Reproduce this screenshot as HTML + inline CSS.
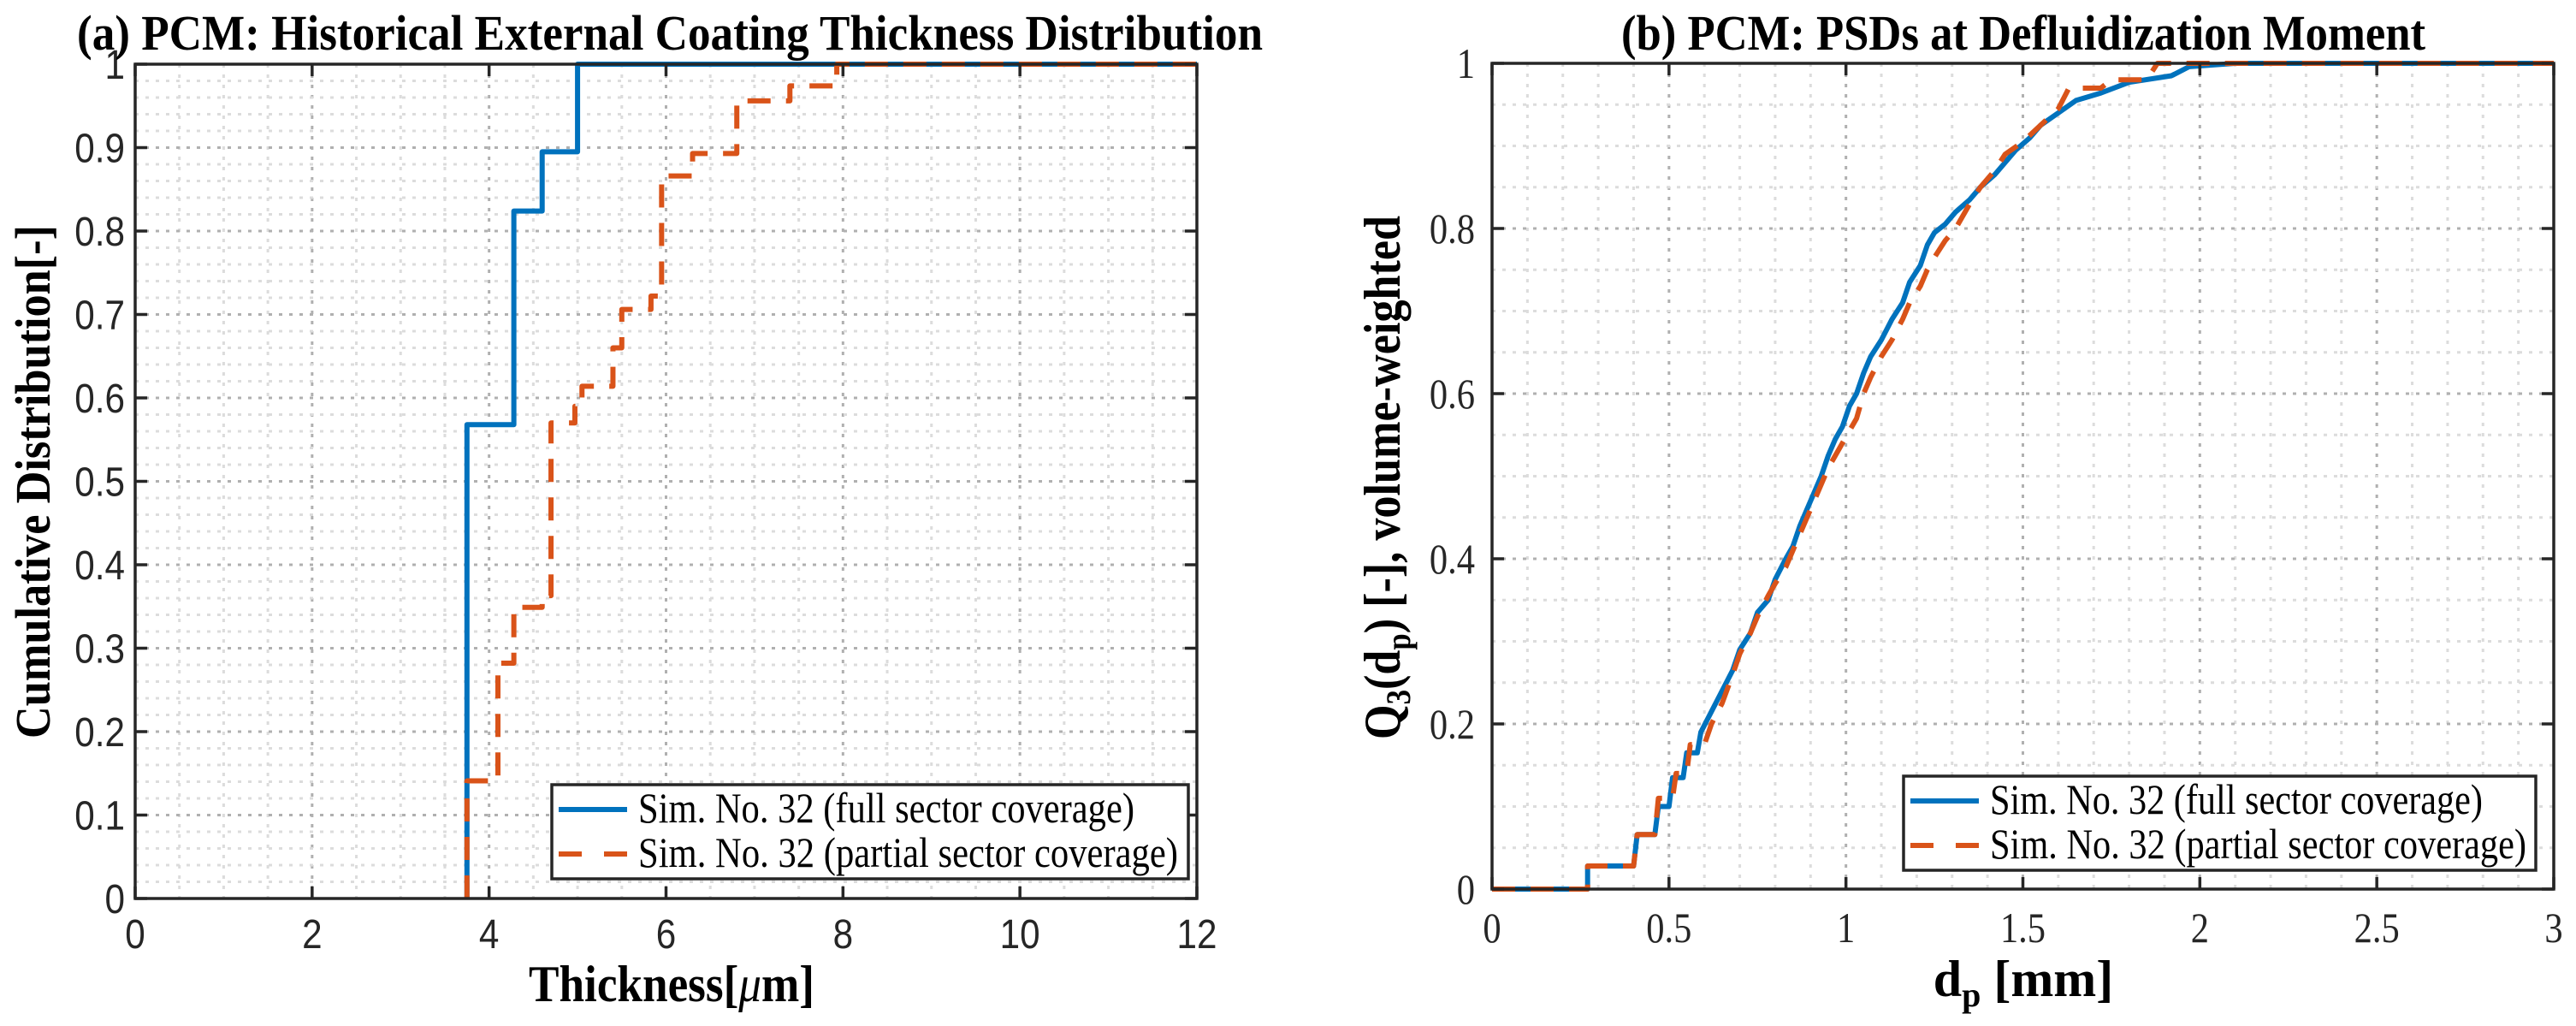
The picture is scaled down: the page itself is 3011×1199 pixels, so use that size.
<!DOCTYPE html>
<html><head><meta charset="utf-8"><style>
html,body{margin:0;padding:0;background:#fff;}
svg{display:block;}
</style></head><body>
<svg id="fig" xmlns="http://www.w3.org/2000/svg" width="3011" height="1199" viewBox="0 0 3011 1199">
<rect width="3011" height="1199" fill="#fff"/>
<g id="A"></g>
<g id="B"></g>
</svg>
<script>
// Panel (a) data
const aFullX = [3.75, 4.28, 4.6, 5.0];
const aFullY = [0.568, 0.824, 0.895, 1.0];
const aPartX = [3.75, 4.1, 4.28, 4.6, 4.7, 4.97, 5.05, 5.4, 5.5, 5.83, 5.95, 6.3, 6.8, 7.4, 7.93];
const aPartY = [0.141, 0.282, 0.349, 0.363, 0.57, 0.59, 0.614, 0.66, 0.706, 0.722, 0.866, 0.893, 0.956, 0.974, 1.0];
const aXTicks = [0, 2, 4, 6, 8, 10, 12];
const aYTicks = [0, 0.1, 0.2, 0.3, 0.4, 0.5, 0.6, 0.7, 0.8, 0.9, 1];
const aYTickLabels = ['0','0.1','0.2','0.3','0.4','0.5','0.6','0.7','0.8','0.9','1'];
// Panel (b) data
const bFullX = [0, 0.27, 0.27, 0.40, 0.41, 0.46, 0.47, 0.50, 0.51, 0.54, 0.55, 0.58, 0.59, 0.62, 0.65, 0.68, 0.70, 0.73, 0.75, 0.78, 0.80, 0.83, 0.85, 0.87, 0.89, 0.91, 0.93, 0.95, 0.97, 0.99, 1.01, 1.03, 1.05, 1.07, 1.10, 1.13, 1.16, 1.18, 1.21, 1.23, 1.25, 1.28, 1.31, 1.35, 1.38, 1.42, 1.45, 1.48, 1.52, 1.55, 1.60, 1.65, 1.72, 1.80, 1.92, 1.97, 2.10, 3.0];
const bFullY = [0, 0, 0.028, 0.028, 0.066, 0.066, 0.10, 0.10, 0.135, 0.135, 0.165, 0.165, 0.19, 0.215, 0.24, 0.265, 0.29, 0.31, 0.335, 0.35, 0.375, 0.40, 0.415, 0.44, 0.46, 0.48, 0.50, 0.525, 0.545, 0.56, 0.585, 0.60, 0.625, 0.645, 0.665, 0.69, 0.71, 0.735, 0.755, 0.78, 0.795, 0.805, 0.82, 0.835, 0.85, 0.865, 0.88, 0.895, 0.91, 0.925, 0.94, 0.955, 0.964, 0.977, 0.985, 0.996, 1.0, 1.0];
const bPartX = [0, 0.27, 0.27, 0.40, 0.41, 0.46, 0.47, 0.51, 0.52, 0.55, 0.56, 0.60, 0.62, 0.65, 0.68, 0.70, 0.73, 0.75, 0.78, 0.80, 0.83, 0.85, 0.87, 0.89, 0.91, 0.93, 0.95, 0.97, 0.99, 1.01, 1.03, 1.05, 1.07, 1.10, 1.13, 1.16, 1.18, 1.21, 1.23, 1.25, 1.28, 1.31, 1.35, 1.38, 1.42, 1.45, 1.50, 1.55, 1.60, 1.63, 1.72, 1.75, 1.85, 1.88, 3.0];
const bPartY = [0, 0, 0.028, 0.028, 0.066, 0.066, 0.11, 0.11, 0.14, 0.14, 0.175, 0.175, 0.20, 0.225, 0.26, 0.285, 0.31, 0.33, 0.355, 0.37, 0.39, 0.41, 0.43, 0.45, 0.47, 0.49, 0.51, 0.525, 0.54, 0.555, 0.57, 0.60, 0.62, 0.645, 0.665, 0.69, 0.71, 0.73, 0.75, 0.765, 0.785, 0.80, 0.83, 0.85, 0.87, 0.89, 0.905, 0.925, 0.945, 0.97, 0.97, 0.98, 0.98, 1.0, 1.0];
const bXTicks = [0, 0.5, 1, 1.5, 2, 2.5, 3];
const bXTickLabels = ['0','0.5','1','1.5','2','2.5','3'];
const bYTicks = [0, 0.2, 0.4, 0.6, 0.8, 1];
const bYTickLabels = ['0','0.2','0.4','0.6','0.8','1'];

const NS = 'http://www.w3.org/2000/svg';
function mk(parent, tag, attrs, text){
  const e = document.createElementNS(NS, tag);
  for (const k in attrs) e.setAttribute(k, attrs[k]);
  if (text !== undefined) e.textContent = text;
  parent.appendChild(e);
  return e;
}
const BLUE = '#0072BD', ORANGE = '#D95319';

function panel(g, o){
  const sx = v => o.x0 + (v - o.xmin) / (o.xmax - o.xmin) * (o.x1 - o.x0);
  const sy = v => o.y1 - (v - o.ymin) / (o.ymax - o.ymin) * (o.y1 - o.y0);
  const grid = mk(g, 'g', {});
  
  
  for (let v = o.xmin; v <= o.xmax + 1e-9; v += o.xminor) {
    const isMaj = o.xticks.some(t => Math.abs(t - v) < 1e-6);
    mk(grid, 'line', {x1: sx(v), x2: sx(v), y1: o.y0, y2: o.y1, stroke: isMaj ? '#b0b0b0' : '#dcdcdc', 'stroke-width': 3, 'stroke-dasharray': '4 8'});
  }
  for (let v = o.ymin; v <= o.ymax + 1e-9; v += o.yminor) {
    const isMaj = o.yticks.some(t => Math.abs(t - v) < 1e-6);
    mk(grid, 'line', {x1: o.x0, x2: o.x1, y1: sy(v), y2: sy(v), stroke: isMaj ? '#b0b0b0' : '#dcdcdc', 'stroke-width': 3, 'stroke-dasharray': '4 8'});
  }
  function series(xs, ys, color, dash, name, stairs){
    let pts = [];
    if (stairs) {
      pts.push([sx(xs[0]), sy(0)]);
      for (let i = 0; i < xs.length; i++) {
        pts.push([sx(xs[i]), sy(i === 0 ? 0 : ys[i-1])]);
        pts.push([sx(xs[i]), sy(ys[i])]);
      }
      pts.push([sx(o.xmax), sy(ys[ys.length-1])]);
    } else {
      for (let i = 0; i < xs.length; i++) pts.push([sx(xs[i]), sy(ys[i])]);
    }
    const p = mk(g, 'polyline', {points: pts.map(q => q.join(',')).join(' '), fill: 'none', stroke: color, 'stroke-width': 6, 'stroke-linejoin': 'round'});
    if (dash) p.setAttribute('stroke-dasharray', '27 18');
    
    
  }
  series(o.s1x, o.s1y, BLUE, false, 'series-full-coverage', o.stairs);
  series(o.s2x, o.s2y, ORANGE, true, 'series-partial-coverage', o.stairs);
  const box = mk(g, 'rect', {x: o.x0, y: o.y0, width: o.x1 - o.x0, height: o.y1 - o.y0, fill: 'none', stroke: '#262626', 'stroke-width': 3.5});
  
  
  o.xticks.forEach((v, i) => {
    mk(g, 'line', {x1: sx(v), x2: sx(v), y1: o.y1, y2: o.y1 - 14, stroke: '#262626', 'stroke-width': 3.5});
    mk(g, 'line', {x1: sx(v), x2: sx(v), y1: o.y0, y2: o.y0 + 14, stroke: '#262626', 'stroke-width': 3.5});
    const t = mk(g, 'text', {x: 0, y: 0, transform: 'translate(' + sx(v) + ',' + (o.y1 + o.xtickDy) + ') scale(' + o.tickSX + ',1)', 'text-anchor': 'middle', 'font-family': o.tickFont, 'font-size': o.tickSize, fill: '#262626'}, o.xtickLabels[i]);
    
    
  });
  o.yticks.forEach((v, i) => {
    mk(g, 'line', {x1: o.x0, x2: o.x0 + 14, y1: sy(v), y2: sy(v), stroke: '#262626', 'stroke-width': 3.5});
    mk(g, 'line', {x1: o.x1, x2: o.x1 - 14, y1: sy(v), y2: sy(v), stroke: '#262626', 'stroke-width': 3.5});
    const t = mk(g, 'text', {x: 0, y: 0, transform: 'translate(' + (o.x0 - o.ytickDx) + ',' + (sy(v) + 17) + ') scale(' + o.tickSX + ',1)', 'text-anchor': 'end', 'font-family': o.tickFont, 'font-size': o.tickSize, fill: '#262626'}, o.ytickLabels[i]);
    
    
  });
  const L = o.leg;
  const lg = mk(g, 'g', {});
  
  
  mk(lg, 'rect', {x: L.x, y: L.y, width: L.w, height: L.h, fill: '#fff', stroke: '#262626', 'stroke-width': 3.5});
  const rows = [['Sim. No. 32 (full sector coverage)', BLUE, false, L.tw1], ['Sim. No. 32 (partial sector coverage)', ORANGE, true, L.tw2]];
  rows.forEach((r, i) => {
    const cy = L.y + 29 + i * 52;
    const ln = mk(lg, 'line', {x1: L.x + 8, x2: L.x + 88, y1: cy, y2: cy, stroke: r[1], 'stroke-width': 6});
    if (r[2]) ln.setAttribute('stroke-dasharray', '27 26');
    const t = mk(lg, 'text', {x: L.x + 101, y: cy + 15, 'font-family': '"Liberation Serif", serif', 'font-size': 50, textLength: r[3], lengthAdjust: 'spacingAndGlyphs', fill: '#000'}, r[0]);
    
    
  });
}

const gA = document.getElementById('A');
panel(gA, {x0: 158, x1: 1399, y0: 75, y1: 1050, xmin: 0, xmax: 12, ymin: 0, ymax: 1,
  xminor: 0.5, yminor: 0.02, xticks: aXTicks, xtickLabels: aXTicks.map(String), yticks: aYTicks, ytickLabels: aYTickLabels,
  s1x: aFullX, s1y: aFullY, s2x: aPartX, s2y: aPartY, stairs: true,
  tickFont: '"Liberation Sans", sans-serif', tickSize: 48, tickSX: 0.88, xtickDy: 58, ytickDx: 12,
  leg: {x: 645, y: 917, w: 744, h: 110, tw1: 580, tw2: 631}});
const gB = document.getElementById('B');
panel(gB, {x0: 1744, x1: 2985, y0: 74, y1: 1039, xmin: 0, xmax: 3, ymin: 0, ymax: 1,
  xminor: 0.1, yminor: 0.05, xticks: bXTicks, xtickLabels: bXTickLabels, yticks: bYTicks, ytickLabels: bYTickLabels,
  s1x: bFullX, s1y: bFullY, s2x: bPartX, s2y: bPartY, stairs: false,
  tickFont: '"Liberation Serif", serif', tickSize: 50, tickSX: 0.85, xtickDy: 62, ytickDx: 20,
  leg: {x: 2225, y: 907, w: 739, h: 110, tw1: 576, tw2: 627}});

const svg = document.getElementById('fig');
let t;
t = mk(svg, 'text', {x: 783, y: 58, 'text-anchor': 'middle', 'font-family': '"Liberation Serif", serif', 'font-weight': 'bold', 'font-size': 58, textLength: 1386, lengthAdjust: 'spacingAndGlyphs', fill: '#000'}, '(a) PCM: Historical External Coating Thickness Distribution');


t = mk(svg, 'text', {x: 2365, y: 58, 'text-anchor': 'middle', 'font-family': '"Liberation Serif", serif', 'font-weight': 'bold', 'font-size': 58, textLength: 940, lengthAdjust: 'spacingAndGlyphs', fill: '#000'}, '(b) PCM: PSDs at Defluidization Moment');


t = mk(svg, 'text', {x: 785, y: 1170, 'text-anchor': 'middle', 'font-family': '"Liberation Serif", serif', 'font-weight': 'bold', 'font-size': 60, textLength: 334, lengthAdjust: 'spacingAndGlyphs', fill: '#000'});


mk(t, 'tspan', {}, 'Thickness[');
mk(t, 'tspan', {'font-style': 'italic', 'font-weight': 'normal'}, 'μ');
mk(t, 'tspan', {}, 'm]');
t = mk(svg, 'text', {x: 0, y: 0, 'text-anchor': 'middle', transform: 'translate(58,563) rotate(-90)', 'font-family': '"Liberation Serif", serif', 'font-weight': 'bold', 'font-size': 58, textLength: 600, lengthAdjust: 'spacingAndGlyphs', fill: '#000'}, 'Cumulative Distribution[-]');


t = mk(svg, 'text', {x: 2365, y: 1164, 'text-anchor': 'middle', 'font-family': '"Liberation Serif", serif', 'font-weight': 'bold', 'font-size': 60, fill: '#000'});


mk(t, 'tspan', {}, 'd');
mk(t, 'tspan', {'font-size': 40, dy: 12}, 'p');
mk(t, 'tspan', {dy: -12}, ' [mm]');
t = mk(svg, 'text', {x: 0, y: 0, 'text-anchor': 'middle', transform: 'translate(1636,558) rotate(-90)', 'font-family': '"Liberation Serif", serif', 'font-weight': 'bold', 'font-size': 60, textLength: 612, lengthAdjust: 'spacingAndGlyphs', fill: '#000'});


mk(t, 'tspan', {}, 'Q');
mk(t, 'tspan', {'font-size': 40, dy: 12}, '3');
mk(t, 'tspan', {dy: -12}, '(d');
mk(t, 'tspan', {'font-size': 40, dy: 12}, 'p');
mk(t, 'tspan', {dy: -12}, ') [-], volume-weighted');
</script>
</body></html>
